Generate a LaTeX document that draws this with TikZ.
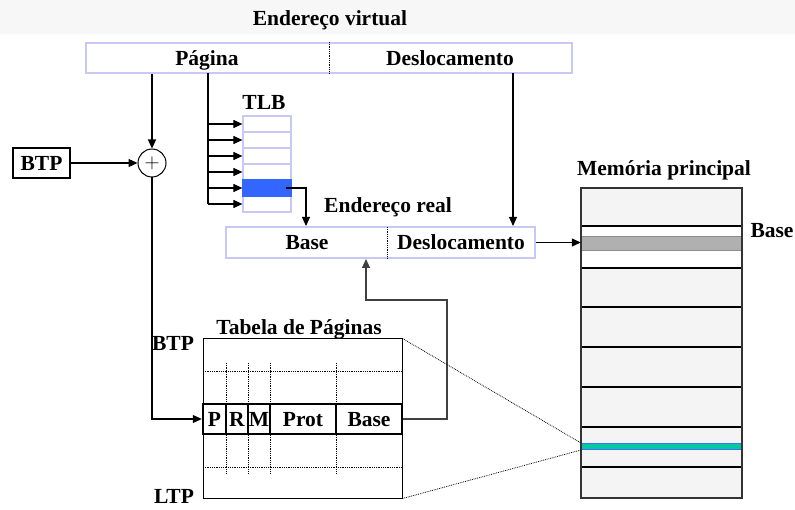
\documentclass[tikz,border=0pt]{standalone}
\usepackage{fontspec}
\setmainfont{Liberation Serif}
\usetikzlibrary{positioning,arrows.meta}
\definecolor{bandgray}{RGB}{247,247,247}
\definecolor{lav}{RGB}{200,200,245}
\definecolor{tlbblue}{RGB}{51,102,255}
\definecolor{memgray}{RGB}{244,244,244}
\definecolor{basegray}{RGB}{176,176,176}
\definecolor{tealband}{RGB}{0,200,160}
\definecolor{hitblue}{RGB}{64,112,255}

\begin{document}
\begin{tikzpicture}[x=1pt, y=-1pt,
  every node/.style={font=\fontsize{21.5}{25}\selectfont\bfseries, inner sep=0pt, text height=14.2pt, text depth=0pt},
  addr/.style={draw=lav, line width=2pt},
  tlbcell/.style={draw=lav, line width=1.2pt, minimum width=48pt, minimum height=16pt},
  entry/.style={draw, line width=2.4pt, fill=white, minimum height=30pt},
  memline/.style={line width=1.8pt},
  arr/.style={-{Triangle[length=9pt,width=8pt]}, line width=1.1pt},
  guide/.style={densely dotted, line width=0.8pt},
]
\useasboundingbox (0,0) rectangle (795,510);

% ── top band ──
\fill[bandgray] (0,0) rectangle (795,34);
\node (title) at (330,18) {Endereço virtual};

% ── virtual address ──
\node[addr, minimum width=486pt, minimum height=30pt] (va) at (329,58) {};
\draw[guide] (va.north) -- (va.south);
\node (vpag) at (207,58) {Página};
\node (vdes) at (450,58) {Deslocamento};

% ── BTP + adder ──
\node[draw, line width=2pt, minimum width=57pt, minimum height=30pt] (btp) at (41.5,163) {BTP};
\node[draw, circle, line width=1pt, minimum size=28pt, text height=11pt, font=\fontsize{22}{22}\selectfont] (sum) at (152,163) {$+$};
\draw[arr] (sum |- va.south) -- (sum.north);
\draw[arr] (btp.east) -- (sum.west);

% ── TLB ──
\node (tlblbl) at (264,102) {TLB};
\coordinate (bus) at (208,73);
\foreach \i/\f in {1/white,2/white,3/white,4/white,5/tlbblue,6/white}{
  \node[tlbcell, fill=\f] (tlb\i) at (267,108+16*\i) {};
  \draw[arr] (bus |- tlb\i.west) -- (tlb\i.west);
}
\node[tlbcell, fill=tlbblue, draw=tlbblue] (tlbhit) at (tlb5) {};
\draw[line width=2pt] (bus) -- (bus |- tlb6.west);

% ── real address ──
\node (ralbl) at (388,205) {Endereço real};
\node[addr, minimum width=309pt, minimum height=31pt] (ra) at (380.5,242.5) {};
\draw[guide] (387,227) -- (387,258);
\node (rbase) at (307,242) {Base};
\node (rdes) at (461,242) {Deslocamento};

\draw[arr] ([xshift=-6pt]tlbhit.east) -| ([xshift=-74.5pt]ra.north);
\coordinate (voff) at (513,73);
\draw[arr] (voff) -- (voff |- ra.north);

% ── main memory ──
\node (memlbl) at (664,168) {Memória principal};
\node[fill=memgray, minimum width=161pt, minimum height=310pt] (mem) at (661.5,343) {};
\fill[white] (581,226) rectangle (742,268);
\node[fill=basegray, draw=basegray!80!black, line width=0.6pt, minimum width=161pt, minimum height=14pt, text height=0pt] (mbase) at (661.5,243) {};
\foreach \y in {226,268,307,347,387,427,467}
  \draw[memline] (581,\y) -- (742,\y);
\node[fill=tealband, draw=hitblue, line width=1pt, minimum width=160pt, minimum height=6pt, text height=0pt] (hit) at (661.5,446.5) {};
\draw[line width=1.5pt, black!80] (mem.north west) rectangle (mem.south east);
\node (mbaselbl) at (772,230) {Base};
\draw[arr] (ra.east) -- (ra.east -| mem.west);

% ── page table ──
\node (ptlbl) at (299,327) {Tabela de Páginas};
\node (btplbl) at (173,343) {BTP};
\node (ltplbl) at (174,496) {LTP};
\node[draw, line width=1pt, minimum width=199pt, minimum height=159pt] (pt) at (302.5,418.5) {};
\foreach \y in {371,467}
  \draw[guide] (203,\y) -- (402,\y);
\foreach \x in {226,248,270,336}
  \draw[guide] (\x,363) -- (\x,474);
\foreach \n/\x/\w/\t in {P/214.5/23/P, R/237/22/R, M/259/22/M, Prot/303/66/Prot, Base/369/66/Base}
  \node[entry, minimum width=\w pt] (pt\n) at (\x,419) {\t};

\draw[arr] (sum.south) |- (ptP.west);
\coordinate (ret) at (447,300);
\draw[arr, black!75] (ptBase.east) -| (ret) -| ([xshift=-14.5pt]ra.south);

\draw[guide] (pt.north east) -- (hit.north west);
\draw[guide] (pt.south east) -- (hit.south west);

\end{tikzpicture}
\end{document}
